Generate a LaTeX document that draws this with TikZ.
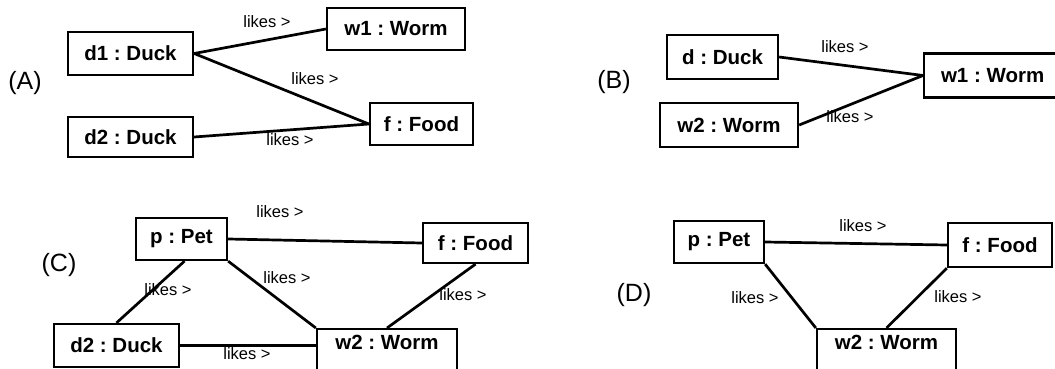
\documentclass[tikz,border=0pt]{standalone}
\usepackage{fontspec}
\setmainfont{Liberation Sans}
\frenchspacing
\begin{document}
\begin{tikzpicture}[x=1pt,y=-1pt,
  obj/.style={draw=black, line width=2.3pt, rectangle, inner sep=0pt, align=center,
    font=\bfseries\fontsize{20.5}{23}\selectfont},
  rel/.style={draw=black, line width=2.7pt},
  lbl/.style={inner sep=0pt, font=\fontsize{16.5}{18}\selectfont},
  pan/.style={inner sep=0pt, font=\fontsize{25}{28}\selectfont}]
\clip (0,0) rectangle (1055,369);
\useasboundingbox (0,0) rectangle (1055,369);
% ---- (A)
\node[pan] (la) at (25,83) {(A)};
\node[obj, minimum width=125, minimum height=43] (ad1) at (130.5,53.5) {d1 : Duck};
\node[obj, minimum width=138, minimum height=42] (aw1) at (396,29) {w1 : Worm};
\node[obj, minimum width=125, minimum height=40] (ad2) at (130.5,137) {d2 : Duck};
\node[obj, minimum width=103, minimum height=42] (af) at (421.5,124) {f : Food};
\draw[rel] (ad1.east) -- (aw1.west);
\draw[rel] (ad1.east) -- (af.west);
\draw[rel] (ad2.east) -- (af.west);
\node[lbl] (al1) at (267,22) {likes >};
\node[lbl] (al2) at (315,79) {likes >};
\node[lbl] (al3) at (290,140) {likes >};
% ---- (B)
\node[pan] (lb) at (614,82) {(B)};
\node[obj, minimum width=111, minimum height=44] (bd) at (722.5,57) {d : Duck};
\node[obj, minimum width=137, minimum height=44, anchor=west] (bw1) at (923,75.5) {w1 : Worm};
\node[obj, minimum width=138, minimum height=44] (bw2) at (729,125) {w2 : Worm};
\draw[rel] (bd.east) -- (bw1.west);
\draw[rel] (bw2.east) -- (bw1.west);
\node[lbl] (bl1) at (845,47) {likes >};
\node[lbl] (bl2) at (850,117) {likes >};
% ---- (C)
\node[pan] (lc) at (59,265) {(C)};
\node[obj, minimum width=91, minimum height=42] (cp) at (181.5,239) {p : Pet};
\node[obj, minimum width=105, minimum height=40] (cf) at (475.5,243) {f : Food};
\node[obj, minimum width=125, minimum height=43] (cd2) at (116.5,345.5) {d2 : Duck};
\node[obj, minimum width=140, anchor=north, text height=14pt, text depth=26pt, inner ysep=6pt] (cw2) at (387,328) {w2 : Worm};
\draw[rel] (cp.east) -- (cf.west);
\draw[rel] ([xshift=3pt]cp.south) -- (cd2.north);
\draw[rel] (cp.south east) -- (cw2.north west);
\draw[rel] (cf.south) -- (cw2.north);
\draw[rel] (cd2.east) -- (cd2.east -| cw2.west);
\node[lbl] (cl1) at (280,212) {likes >};
\node[lbl] (cl2) at (168,290) {likes >};
\node[lbl] (cl3) at (287,278) {likes >};
\node[lbl] (cl4) at (463,295) {likes >};
\node[lbl] (cl5) at (247,354) {likes >};
% ---- (D)
\node[pan] (ld) at (634,295) {(D)};
\node[obj, minimum width=90, minimum height=42] (dp) at (719,242) {p : Pet};
\node[obj, minimum width=104, minimum height=44] (df) at (1000,245) {f : Food};
\node[obj, minimum width=139, anchor=north, text height=14pt, text depth=26pt, inner ysep=6pt] (dw2) at (886.5,328) {w2 : Worm};
\draw[rel] (dp.east) -- (df.west);
\draw[rel] (dp.south east) -- (dw2.north west);
\draw[rel] (df.south west) -- (dw2.north);
\node[lbl] (dl1) at (863,226) {likes >};
\node[lbl] (dl2) at (755,298) {likes >};
\node[lbl] (dl3) at (958,297) {likes >};
\end{tikzpicture}
\end{document}
